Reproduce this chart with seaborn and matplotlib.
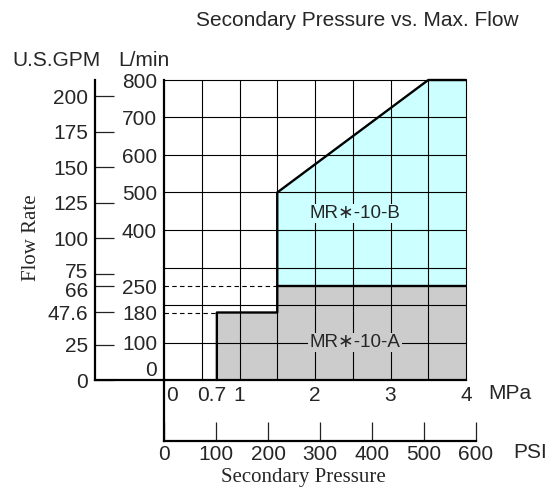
import matplotlib
matplotlib.use("Agg")
import matplotlib.pyplot as plt
from matplotlib.transforms import ScaledTranslation
import seaborn as sns
import numpy as np

# axis values
mpa_ticks = [0, 0.7, 1, 2, 3, 4]
lmin_ticks = [0, 100, 180, 250, 400, 500, 600, 700, 800]
gpm_ticks = [0, 25, 47.6, 66, 75, 100, 125, 150, 175, 200]
psi_ticks = [0, 100, 200, 300, 400, 500, 600]

# MR*-10-A region (upper edge)
a_x = [0.7, 1.5, 1.5, 4.0]
a_y = [180, 180, 250, 250]
# MR*-10-B region (upper edge)
b_x = [1.5, 3.5, 4.0]
b_y = [500, 800, 800]
# outline of the max flow curve
edge_x = [0.7, 0.7, 1.5, 1.5, 3.5, 4.0]
edge_y = [0, 180, 180, 500, 800, 800]

sns.set_style("white")
plt.rcParams['font.family'] = ['Liberation Sans', 'DejaVu Sans']
SERIF = ['Liberation Serif', 'DejaVu Serif']

W, H = 552, 498
fig = plt.figure(figsize=(W / 100, H / 100), dpi=100)


def box(x0, y0, x1, y1):
    # pixel box -> figure fraction
    return [x0 / W, 1 - y1 / H, (x1 - x0) / W, (y1 - y0) / H]


def nudge(lab, dx_px, dy_px):
    lab.set_transform(lab.get_transform() +
                      ScaledTranslation(dx_px / 100, dy_px / 100,
                                        fig.dpi_scale_trans))


ax = fig.add_axes(box(164, 80, 466, 380))
ax_gpm = fig.add_axes(box(95, 80, 164, 380))
ax_psi = fig.add_axes(box(164, 380, 476, 441))

# grid (every 0.5 MPa / 100 L/min)
for gx in np.arange(0.5, 4.01, 0.5):
    ax.axvline(gx, color='black', lw=0.8, zorder=0.5, clip_on=False)
for gy in np.arange(100, 801, 100):
    ax.axhline(gy, color='black', lw=0.8, zorder=0.5, clip_on=False)

# fills
ax.fill_between(a_x, a_y, 0, color='#cccccc', lw=0, zorder=0.2)
ax.fill_between(b_x, b_y, 250, color='#ccffff', lw=0, zorder=0.2)

# boundary lines
sns.lineplot(x=edge_x, y=edge_y, sort=False, estimator=None, color='black',
             lw=1.7, ax=ax, zorder=3, clip_on=False)
sns.lineplot(x=[1.5, 4.0], y=[250, 250], sort=False, estimator=None,
             color='black', lw=1.7, ax=ax, zorder=3)
ax.plot([0, 1.5], [250, 250], ls=(0, (4, 3)), color='black', lw=0.8)
ax.plot([0, 0.7], [180, 180], ls=(0, (4, 3)), color='black', lw=0.8)

ax.set_xlim(0, 4)
ax.set_ylim(0, 800)
ax.set_xticks(mpa_ticks)
ax.set_xticklabels([str(t) for t in mpa_ticks])
ax.set_yticks(lmin_ticks)
ax.set_yticklabels([str(t) for t in lmin_ticks])
ax.grid(False)
ax.tick_params(which='both', length=0, labelsize=15)
ax.tick_params(axis='x', pad=4)
ax.tick_params(axis='y', pad=5)
ax.get_yticklabels()[0].set_va('bottom')
xl = ax.get_xticklabels()
xl[0].set_ha('left')
nudge(xl[0], 2, 0)
nudge(xl[1], -5, 0)
for side in ['top', 'right']:
    ax.spines[side].set_visible(False)
for side in ['left', 'bottom']:
    ax.spines[side].set_linewidth(1.6)
    ax.spines[side].set_color('black')

ax.text(2.53, 444, 'MR∗-10-B', ha='center', va='center', fontsize=13.5,
        bbox=dict(facecolor='#ccffff', edgecolor='none', pad=1), zorder=4)
ax.text(2.53, 100, 'MR∗-10-A', ha='center', va='center', fontsize=13.5,
        bbox=dict(facecolor='#cccccc', edgecolor='none', pad=1), zorder=4)

# U.S.GPM axis
ax_gpm.set_xlim(0, 1)
ax_gpm.set_ylim(0, 800 / 3.785)
ax_gpm.set_xticks([])
ax_gpm.set_yticks(gpm_ticks)
ax_gpm.set_yticklabels([str(t) for t in gpm_ticks])
ax_gpm.tick_params(axis='y', left=True, direction='in', length=14, width=0.9,
                   labelsize=15, pad=5, color='#222222')
labs = ax_gpm.get_yticklabels()
nudge(labs[4], 0, 3)
nudge(labs[3], 0, -3)
ax_gpm.spines['top'].set_visible(False)
ax_gpm.spines['right'].set_visible(False)
for side in ['left', 'bottom']:
    ax_gpm.spines[side].set_linewidth(1.6)
    ax_gpm.spines[side].set_color('black')
ax_gpm.patch.set_alpha(0)

# PSI axis
ax_psi.set_xlim(0, 600)
ax_psi.set_ylim(0, 1)
ax_psi.set_yticks([])
ax_psi.set_xticks(psi_ticks)
ax_psi.set_xticklabels([str(t) for t in psi_ticks])
ax_psi.tick_params(axis='x', bottom=True, direction='in', length=14,
                   width=0.9, labelsize=15, pad=3, color='#222222')
ax_psi.spines['top'].set_visible(False)
ax_psi.spines['right'].set_visible(False)
for side in ['left', 'bottom']:
    ax_psi.spines[side].set_linewidth(1.6)
    ax_psi.spines[side].set_color('black')
ax_psi.patch.set_alpha(0)

# labels
fig.text(357 / W, 1 - 20 / H, 'Secondary Pressure vs. Max. Flow',
         ha='center', va='center', fontsize=15)
fig.text(57 / W, 1 - 60 / H, 'U.S.GPM', ha='center', va='center', fontsize=15)
fig.text(144 / W, 1 - 60 / H, 'L/min', ha='center', va='center', fontsize=15)
fig.text(488 / W, 1 - 393 / H, 'MPa', ha='left', va='center', fontsize=15)
fig.text(513 / W, 1 - 452 / H, 'PSI', ha='left', va='center', fontsize=15)
fig.text(303 / W, 1 - 477 / H, 'Secondary Pressure', ha='center',
         va='center', fontsize=15, family=SERIF)
fig.text(32 / W, 1 - 238 / H, 'Flow Rate', ha='center', va='center',
         rotation=90, fontsize=15, family=SERIF)

fig.savefig('out.png', dpi=100)
